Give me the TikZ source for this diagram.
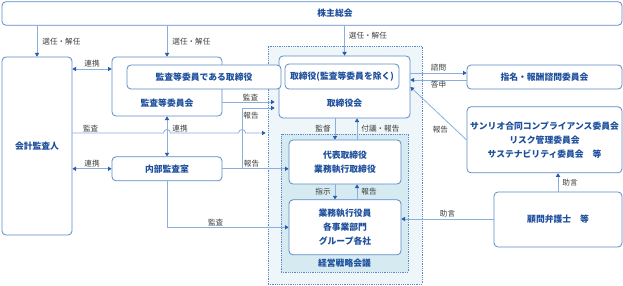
\documentclass[tikz,border=0pt]{standalone}
\usepackage{fontspec}
\setmainfont{Noto Sans CJK JP}
\usetikzlibrary{positioning,arrows.meta,backgrounds,calc}
\definecolor{lineC}{HTML}{8AAEDD}
\definecolor{tipC}{HTML}{2A5AA8}
\definecolor{boxC}{HTML}{5C8AC6}
\definecolor{txtC}{HTML}{1D4F9C}
\definecolor{lblC}{HTML}{3C3C3C}
\definecolor{areaC}{HTML}{EEF6FA}
\definecolor{meetC}{HTML}{D5EAF1}

\begin{document}
\begin{tikzpicture}[
  x=1pt, y=-1pt,
  boxtext/.style={font=\fontsize{8.8}{14}\selectfont\bfseries, text=txtC, align=center},
  orgbox/.style={draw=boxC, fill=white, rounded corners=4pt, line width=0.8pt,
                 inner sep=0pt, boxtext},
  area/.style={draw=boxC, fill=#1, densely dotted, line width=0.8pt, inner sep=0pt},
  flow/.style={draw=lineC, line width=0.8pt,
               -{Triangle[width=4.2pt,length=3.6pt,color=tipC]}},
  both/.style={draw=lineC, line width=0.8pt,
               {Triangle[width=4.2pt,length=3.6pt,color=tipC]}-{Triangle[width=4.2pt,length=3.6pt,color=tipC]}},
  lbl/.style={font=\fontsize{7.6}{9}\selectfont, text=lblC, inner sep=1pt},
]
\useasboundingbox (0,0) rectangle (623,286);

% ── Top: shareholders ──
\node[orgbox, minimum width=620pt, minimum height=23.5pt,
      label={[boxtext, xshift=23pt]center:株主総会}] (share) at (312,13.5) {};

% ── Left: auditors ──
\node[orgbox, minimum width=70pt, minimum height=178pt] (audit) at (37,146) {会計監査人};
\node[orgbox, minimum width=110pt, minimum height=59pt,
      label={[boxtext, yshift=-16.5pt]center:監査等委員会}] (acboard) at (167,86.5) {};
\node[orgbox, minimum width=110pt, minimum height=24pt, below=40pt of acboard] (internal) {内部監査室};

% ── Centre: board and management ──
\begin{scope}[on background layer]
  \node[area=areaC, minimum width=154pt, minimum height=238pt] (govarea) at (345,165) {};
  \node[area=meetC, minimum width=127pt, minimum height=138pt,
        label={[boxtext, yshift=-60pt]center:経営戦略会議}] (meeting) at (344.5,203) {};
\end{scope}
\node[orgbox, minimum width=131pt, minimum height=62pt,
      label={[boxtext, yshift=-16pt]center:取締役会}] (board) at (344.5,87) {};
\node[orgbox, minimum width=114pt, minimum height=25pt] (dir) at (342,76.5) {取締役(監査等委員を除く)};
\node[orgbox, minimum width=154pt, minimum height=24pt] (acdir) at (204,77) {監査等委員である取締役};
\node[orgbox, minimum width=112pt, minimum height=44pt] (ceo) at (345,162) {代表取締役\\業務執行取締役};
\node[orgbox, minimum width=112pt, minimum height=55pt, below=15pt of ceo] (exec) {業務執行役員\\各事業部門\\グループ各社};

% ── Right: committees and counsel ──
\node[orgbox, minimum width=155pt, minimum height=24pt] (nomcom) at (544.5,77) {指名・報酬諮問委員会};
\node[orgbox, minimum width=155pt, minimum height=66pt, below=17pt of nomcom] (comp)
  {サンリオ合同コンプライアンス委員会\\リスク管理委員会\\サステナビリティ委員会\quad 等};
\node[orgbox, minimum width=128pt, minimum height=55pt] (counsel) at (558,219.5) {顧問弁護士\quad 等};

% ── Edges: appointment ──
\draw[flow] (audit.north |- share.south) -- node[lbl, right=4pt]{選任・解任} (audit.north);
\draw[flow] (acboard.north |- share.south) -- node[lbl, right=4pt]{選任・解任} (acboard.north);
\draw[flow] (board.north |- share.south) -- node[lbl, right=3pt, pos=0.33]{選任・解任} (board.north);

% ── Edges: auditors ──
\draw[both] (audit.east |- 0,69) -- node[lbl, above]{連携} (acboard.west |- 0,69);
\draw[both] (audit.east |- internal.west) -- node[lbl, above]{連携} (internal.west);
\draw[both] (acboard.south) -- node[lbl, right=4pt, pos=0.3]{連携} (internal.north);
\draw[flow, shorten >=4pt] (acboard.east |- 0,102) -- node[lbl, above]{監査} (board.west |- 0,102);
\draw[flow, shorten >=2pt]
  (audit.east |- 0,133) -- node[lbl, above, pos=0.2]{監査} (163.5,133)
  arc[start angle=180, end angle=0, radius=3.5pt] -- (238.5,133)
  arc[start angle=180, end angle=0, radius=3.5pt] -- (govarea.west |- 0,133);
\draw[flow] (internal.south) |- node[lbl, above, pos=0.7]{監査} (exec.west);

% ── Edges: internal audit reports ──
\coordinate (rpt) at (242,168);
\draw[flow] (internal.east) -- node[lbl, above, pos=0.44]{報告} (ceo.west |- internal.east);
\draw[flow, shorten >=4pt]
  (rpt) -- node[lbl, right, pos=0.88]{報告} (242,108) -- (board.west |- 0,108);

% ── Edges: board and management ──
\draw[flow] (board.south -| 335,0) -- node[lbl, left=3pt]{監督} (ceo.north -| 335,0);
\draw[flow] (ceo.north -| 357,0) -- node[lbl, right=3pt]{付議・報告} (board.south -| 357,0);
\draw[flow] (ceo.south -| 335,0) -- node[lbl, left=3pt]{指示} (exec.north -| 335,0);
\draw[flow] (exec.north -| 357,0) -- node[lbl, right=3pt]{報告} (ceo.south -| 357,0);

% ── Edges: committees ──
\draw[flow] (board.east |- 0,73) -- node[lbl, above]{諮問} (nomcom.west |- 0,73);
\draw[flow] (nomcom.west |- 0,80) -- node[lbl, below]{答申} (board.east |- 0,80);
\draw[flow] (comp.west |- 0,140) -- node[lbl, left=6pt, pos=0.2]{報告} (board.east);
\draw[flow] (counsel.north) -- node[lbl, right=3pt]{助言} (counsel.north |- comp.south);
\draw[flow] (counsel.west |- 0,219) -- node[lbl, above]{助言} (exec.east |- 0,219);

\end{tikzpicture}
\end{document}
